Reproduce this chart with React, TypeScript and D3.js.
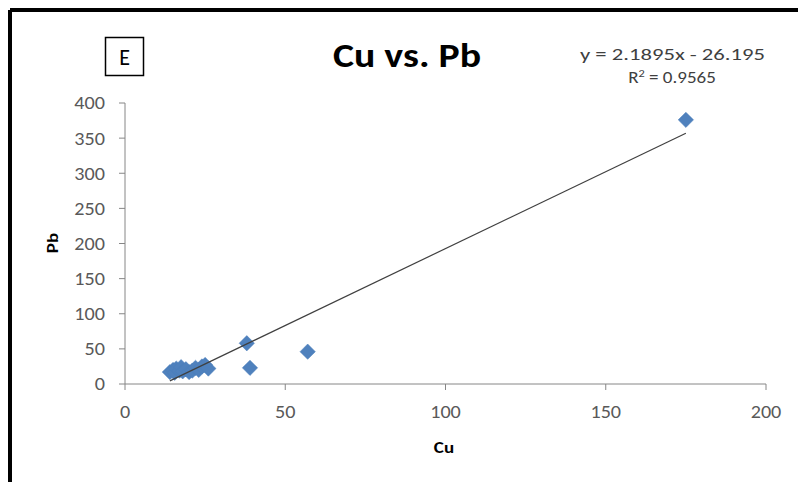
import React from "react";
import * as d3 from "d3";

// Cu and Pb sample concentrations
const cuValues = [14, 15, 15.5, 16, 17, 17.5, 18, 19, 20, 21, 22, 23, 24, 25, 26, 38, 39, 57, 175];
const pbValues = [17, 20, 16, 22, 19, 24, 18, 21, 17, 19, 23, 20, 25, 27, 22, 58, 23, 46, 376];

const xTicks = [0, 50, 100, 150, 200];
const yTicks = [0, 50, 100, 150, 200, 250, 300, 350, 400];

// Linear trendline coefficients
const slope = 2.1895;
const intercept = -26.195;
const rSquared = "0.9565";

const W = 798;
const H = 482;

export default function App() {
  const x = d3.scaleLinear().domain([0, 200]).range([125, 766]);
  const y = d3.scaleLinear().domain([0, 400]).range([384, 103]);

  const points = cuValues.map((c, i) => ({ c, p: pbValues[i] }));
  const xMin = d3.min(cuValues) as number;
  const xMax = d3.max(cuValues) as number;
  const trend = d3
    .line<number>()
    .x((v) => x(v))
    .y((v) => y(slope * v + intercept));

  const diamond = d3.symbol().type(d3.symbolDiamond2).size(150)() as string;

  const font = "Carlito, Lato, 'Liberation Sans', sans-serif";
  const axisColor = "#868686";
  const labelColor = "#595959";
  const stretch = 1.12;

  return (
    <svg
      width={W}
      height={H}
      style={{ position: "absolute", left: 0, top: 0, background: "#fff" }}
      fontFamily={font}
    >
      {/* outer frame */}
      <line x1={10} y1={10} x2={W} y2={10} stroke="#000" strokeWidth={4} />
      <line x1={10} y1={10} x2={10} y2={H} stroke="#000" strokeWidth={4} />

      {/* panel letter */}
      <rect x={105.5} y={37.5} width={38} height={38} fill="#fff" stroke="#000" strokeWidth={1.5} />
      <text x={124.5} y={65} textAnchor="middle" fontSize={22} fill="#000">
        E
      </text>

      {/* title */}
      <text
        x={333}
        y={67}
        fontSize={34}
        fontWeight="bold"
        fill="#000"
        textLength={148}
        lengthAdjust="spacingAndGlyphs"
      >
        Cu vs. Pb
      </text>

      {/* trendline equation */}
      <text
        x={580}
        y={60}
        fontSize={17}
        fill="#404040"
        textLength={185}
        lengthAdjust="spacingAndGlyphs"
      >
        {`y = ${slope}x - ${Math.abs(intercept)}`}
      </text>
      <text x={672} y={83} textAnchor="middle" fontSize={17} fill="#404040" transform={`translate(${672 * (1 - stretch)},0) scale(${stretch},1)`}>
        R<tspan dy={-6} fontSize={11}>2</tspan>
        <tspan dy={6}> = {rSquared}</tspan>
      </text>

      {/* y axis */}
      <line x1={x(0)} y1={y(0)} x2={x(0)} y2={y(400)} stroke={axisColor} strokeWidth={1} />
      {yTicks.map((t) => (
        <g key={"y" + t}>
          <line x1={x(0) - 6} x2={x(0)} y1={y(t)} y2={y(t)} stroke={axisColor} strokeWidth={1} />
          <text
            transform={`translate(105, ${y(t)}) scale(${stretch},1)`}
            dy="0.36em"
            textAnchor="end"
            fontSize={18}
            fill={labelColor}
          >
            {t}
          </text>
        </g>
      ))}

      {/* x axis */}
      <line x1={x(0)} y1={y(0)} x2={x(200)} y2={y(0)} stroke={axisColor} strokeWidth={1} />
      {xTicks.map((t) => (
        <g key={"x" + t}>
          <line x1={x(t)} x2={x(t)} y1={y(0)} y2={y(0) + 6} stroke={axisColor} strokeWidth={1} />
          <text
            transform={`translate(${x(t)}, 412) scale(${stretch},1)`}
            dy="0.36em"
            textAnchor="middle"
            fontSize={18}
            fill={labelColor}
          >
            {t}
          </text>
        </g>
      ))}

      {/* axis titles */}
      <text
        transform={`translate(444, 453) scale(${stretch},1)`}
        textAnchor="middle"
        fontSize={17}
        fontWeight="bold"
        fill="#000"
      >
        Cu
      </text>
      <text
        transform={`translate(58, 243) rotate(-90) scale(${stretch},1)`}
        textAnchor="middle"
        fontSize={17}
        fontWeight="bold"
        fill="#000"
      >
        Pb
      </text>

      {/* data points */}
      {points.map((d, i) => (
        <path
          key={i}
          d={diamond}
          transform={`translate(${x(d.c)}, ${y(d.p)})`}
          fill="#4F81BD"
          stroke="#4A7EBB"
          strokeWidth={0.5}
        />
      ))}

      {/* linear trendline */}
      <path d={trend([xMin, xMax]) as string} fill="none" stroke="#404040" strokeWidth={1.2} />
    </svg>
  );
}
